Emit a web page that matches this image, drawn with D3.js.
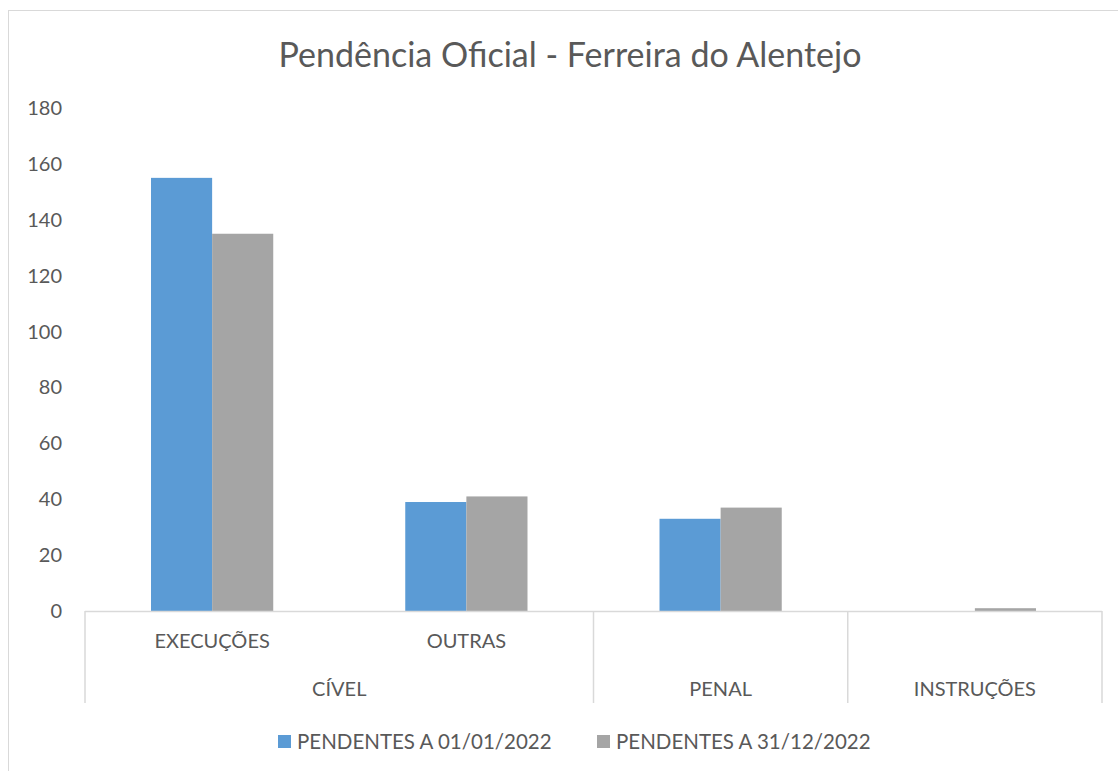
<!DOCTYPE html>
<html>
<head>
<meta charset="utf-8">
<script src="https://cdn.jsdelivr.net/npm/d3@7.9.0/dist/d3.min.js"></script>
<style>
  body { margin: 0; background: #fff; }
  svg text { font-family: Lato, "Open Sans", sans-serif; fill: #595959; }
</style>
</head>
<body>
<svg id="chart" width="1118" height="771"></svg>
<script>
const categories = ['EXECUÇÕES', 'OUTRAS', 'PENAL', 'INSTRUÇÕES'];
const groups = [
  { label: 'CÍVEL', from: 0, to: 2 },
  { label: 'PENAL', from: 2, to: 3 },
  { label: 'INSTRUÇÕES', from: 3, to: 4 },
];
const seriesNames = ['PENDENTES A 01/01/2022', 'PENDENTES A 31/12/2022'];
const pend2022Start = [155, 39, 33, 0];
const pend2022End = [135, 41, 37, 1];
const yTicks = [0, 20, 40, 60, 80, 100, 120, 140, 160, 180];

const colors = ['#5b9bd5', '#a5a5a5'];
const seriesValues = [pend2022Start, pend2022End];

const svg = d3.select('#chart');

// chart border
svg.append('rect')
  .attr('x', 8.5).attr('y', 10.5)
  .attr('width', 1300).attr('height', 900)
  .attr('fill', 'none').attr('stroke', '#d9d9d9');

svg.append('text')
  .attr('x', 570).attr('y', 67)
  .attr('text-anchor', 'middle')
  .attr('font-size', 34)
  .text('Pendência Oficial - Ferreira do Alentejo');

const plotLeft = 85, plotRight = 1102, plotBottom = 611, plotTop = 108;

const x0 = d3.scaleBand().domain(categories).range([plotLeft, plotRight]).paddingInner(0).paddingOuter(0);
const x1 = d3.scaleBand().domain([0, 1]).range([0, x0.bandwidth()]).paddingInner(0).paddingOuter(1.08);
const y = d3.scaleLinear().domain([0, 180]).range([plotBottom, plotTop]);

// y tick labels
svg.append('g').selectAll('text')
  .data(yTicks)
  .join('text')
  .attr('x', 62)
  .attr('y', (d) => y(d))
  .attr('dy', '0.35em')
  .attr('text-anchor', 'end')
  .attr('font-size', 20)
  .text((d) => d);

// bars
const barG = svg.append('g');
categories.forEach((cat, i) => {
  seriesValues.forEach((vals, s) => {
    barG.append('rect')
      .attr('x', x0(cat) + x1(s))
      .attr('y', y(vals[i]))
      .attr('width', x1.bandwidth())
      .attr('height', y(0) - y(vals[i]))
      .attr('fill', colors[s]);
  });
});

// axis line and group separators
svg.append('line')
  .attr('x1', plotLeft).attr('x2', plotRight)
  .attr('y1', plotBottom + 0.5).attr('y2', plotBottom + 0.5)
  .attr('stroke', '#d9d9d9').attr('stroke-width', 1.5);

const sepX = [plotLeft, x0(categories[2]), x0(categories[3]), plotRight];
svg.append('g').selectAll('line')
  .data(sepX)
  .join('line')
  .attr('x1', (d) => d).attr('x2', (d) => d)
  .attr('y1', plotBottom).attr('y2', 703)
  .attr('stroke', '#d9d9d9').attr('stroke-width', 1.5);

// inner category labels (CÍVEL only)
svg.append('g').selectAll('text')
  .data(categories.slice(0, 2))
  .join('text')
  .attr('x', (d) => x0(d) + x0.bandwidth() / 2)
  .attr('y', 648)
  .attr('text-anchor', 'middle')
  .attr('font-size', 20)
  .text((d) => d);

// group labels
svg.append('g').selectAll('text')
  .data(groups)
  .join('text')
  .attr('x', (g) => (x0(categories[g.from]) + (g.to < categories.length ? x0(categories[g.to]) : plotRight)) / 2)
  .attr('y', 696)
  .attr('text-anchor', 'middle')
  .attr('font-size', 20)
  .text((g) => g.label);

// legend
const legendX = [278, 597];
seriesNames.forEach((name, s) => {
  svg.append('rect')
    .attr('x', legendX[s]).attr('y', 735)
    .attr('width', 13).attr('height', 13)
    .attr('fill', colors[s]);
  svg.append('text')
    .attr('x', legendX[s] + 19).attr('y', 749)
    .attr('font-size', 20.5)
    .text(name);
});
</script>
</body>
</html>
